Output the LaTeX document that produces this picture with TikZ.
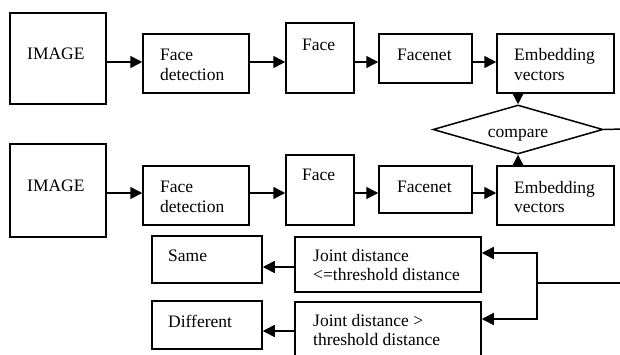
\documentclass[tikz,border=0pt]{standalone}
\usepackage{fontspec}
\setmainfont{Liberation Serif}
\usetikzlibrary{arrows.meta,shapes.geometric}
\tikzset{
  box/.style={draw,line width=1.5pt,inner sep=0pt},
  arr/.style={line width=1.5pt,-{Triangle[length=12pt,width=12pt]}},
  ln/.style={line width=1.5pt},
  txt/.style={anchor=base west,inner sep=0pt,font=\rmfamily\fontsize{17.5}{19.5}\selectfont},
}
\begin{document}
\begin{tikzpicture}[x=1pt,y=-1pt]
\useasboundingbox (0,0) rectangle (620,354);
\clip (0,0) rectangle (620,354);
% top row
\node[box,minimum width=96,minimum height=91] (img1) at (58,58.5) {};
\node[box,minimum width=106,minimum height=59] (fd1) at (196,63.5) {};
\node[box,minimum width=68,minimum height=70] (face1) at (320,58) {};
\node[box,minimum width=93,minimum height=49] (fn1) at (425.5,58.5) {};
\node[box,minimum width=117,minimum height=59] (emb1) at (555.5,63.5) {};
\node[txt] (timg1) at (27,59) {IMAGE};
\node[txt] (tfd1a) at (160,60) {Face};
\node[txt] (tfd1b) at (160,80) {detection};
\node[txt] (tface1) at (302,50) {Face};
\node[txt] (tfn1) at (397,60) {Facenet};
\node[txt] (temb1a) at (514,60) {Embedding};
\node[txt] (temb1b) at (514,80) {vectors};
\coordinate (r1) at (0,62);
\draw[arr] (img1.east |- r1) -- (fd1.west |- r1);
\draw[arr] (fd1.east |- r1) -- (face1.west |- r1);
\draw[arr] (face1.east |- r1) -- (fn1.west |- r1);
\draw[arr] (fn1.east |- r1) -- (emb1.west |- r1);
% diamond
\node[draw,line width=1.5pt,diamond,inner sep=0pt,minimum width=170,minimum height=49] (dia) at (518,129.5) {};
\node[txt,anchor=base] (tdia) at (518,137) {compare};
\draw[arr] (emb1.south -| dia.north) -- (dia.north);
\coordinate (dout) at (624,129);
\draw[ln] (dia.east) -- (dout);
% bottom row
\node[box,minimum width=96,minimum height=93] (img2) at (58,190.5) {};
\node[box,minimum width=106,minimum height=59] (fd2) at (196,195.5) {};
\node[box,minimum width=68,minimum height=70] (face2) at (320,190) {};
\node[box,minimum width=93,minimum height=47] (fn2) at (425.5,189.5) {};
\node[box,minimum width=117,minimum height=59] (emb2) at (555.5,195.5) {};
\node[txt] (timg2) at (27,191) {IMAGE};
\node[txt] (tfd2a) at (160,192) {Face};
\node[txt] (tfd2b) at (160,212) {detection};
\node[txt] (tface2) at (302,180) {Face};
\node[txt] (tfn2) at (397,192) {Facenet};
\node[txt] (temb2a) at (514,193) {Embedding};
\node[txt] (temb2b) at (514,212) {vectors};
\coordinate (r2) at (0,193);
\draw[arr] (img2.east |- r2) -- (fd2.west |- r2);
\draw[arr] (fd2.east |- r2) -- (face2.west |- r2);
\draw[arr] (face2.east |- r2) -- (fn2.west |- r2);
\draw[arr] (fn2.east |- r2) -- (emb2.west |- r2);
\draw[arr] (emb2.north -| dia.south) -- (dia.south);
% results
\node[box,minimum width=110,minimum height=47] (same) at (207,259.5) {};
\node[box,minimum width=110,minimum height=48] (diff) at (207,325) {};
\node[box,minimum width=186,minimum height=55] (j1) at (388,264.5) {};
\node[box,minimum width=186,minimum height=56] (j2) at (388,330) {};
\node[txt] (tsame) at (168,261) {Same};
\node[txt] (tdiff) at (168,327) {Different};
\node[txt] (tj1a) at (313,261) {Joint distance};
\node[txt] (tj1b) at (313,280) {<=threshold distance};
\node[txt] (tj2a) at (313,326) {Joint distance >};
\node[txt] (tj2b) at (313,345) {threshold distance};
\coordinate (a1) at (0,267);
\coordinate (a2) at (0,331);
\draw[arr] (j1.west |- a1) -- (same.east |- a1);
\draw[arr] (j2.west |- a2) -- (diff.east |- a2);
\coordinate (bt) at (537,253);
\coordinate (bb) at (537,319);
\coordinate (bm) at (537,283);
\coordinate (bin) at (624,283);
\draw[ln] (bin) -- (bm);
\draw[arr] (bm) -- (bt) -- (j1.east |- bt);
\draw[arr] (bm) -- (bb) -- (j2.east |- bb);
\end{tikzpicture}
\end{document}
